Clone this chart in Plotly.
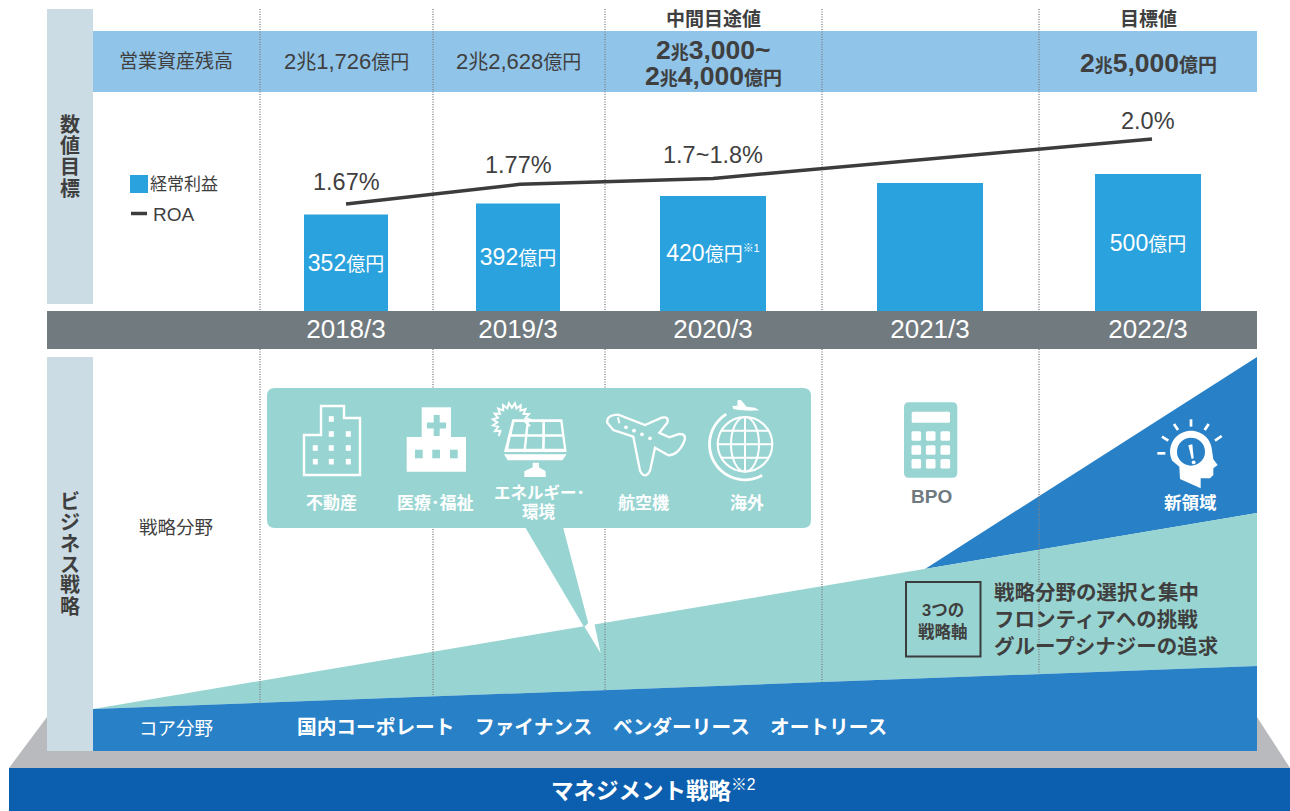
import math
import plotly.graph_objects as go

# ---------- data ----------
years = ["2018/3", "2019/3", "2020/3", "2021/3", "2022/3"]
ordinary_profit = [352, 392, 420, 467, 500]
profit_labels = ["352", "392", "420", None, "500"]
roa = [1.67, 1.77, 1.80, None, 2.0]
roa_labels = ["1.67%", "1.77%", "1.7~1.8%", "", "2.0%"]
strategic_fields = ["不動産", "医療･福祉", "航空機", "海外"]
core_fields = ["国内コーポレート", "ファイナンス", "ベンダーリース", "オートリース"]
axes_3 = ["戦略分野の選択と集中", "フロンティアへの挑戦", "グループシナジーの追求"]

# ---------- layout constants ----------
W, H = 1290, 811
bar_centres = [346, 518, 713, 930, 1148]
bar_widths = [84, 84, 106, 106, 106]
line_x = [346, 520, 713, 930, 1152]
FONT = "Liberation Sans, Noto Sans CJK JP, sans-serif"
TXT, LINE = "#3f3f3f", "#3c3c3c"
BAR, TEAL, BLUE, NAVY = "#2aa2dd", "#98d5d2", "#2881c7", "#0b5fae"
SIDE, BAND, GREY, BASE = "#cbdce4", "#90c4e9", "#717a7f", "#b9babd"

shapes, anns = [], []


def rect(x0, y0, x1, y1, fill):
    shapes.append(dict(type="rect", xref="x", yref="y", x0=x0, y0=y0, x1=x1, y1=y1,
                       fillcolor=fill, line_width=0, layer="below"))


def path(d, fill=None, color=None, width=0):
    s = dict(type="path", xref="x", yref="y", path=d, layer="below",
             line=dict(width=width, color=color or "rgba(0,0,0,0)"))
    if fill:
        s["fillcolor"] = fill
    shapes.append(s)


def poly(pts, fill=None, color=None, width=0, close=True):
    d = "M" + " L".join(f"{x:.2f},{y:.2f}" for x, y in pts) + (" Z" if close else "")
    path(d, fill, color, width)


def circle(cx, cy, r, fill=None, color=None, width=0):
    shapes.append(dict(type="circle", xref="x", yref="y", x0=cx - r, x1=cx + r, y0=cy - r, y1=cy + r,
                       fillcolor=fill or "rgba(0,0,0,0)", layer="below",
                       line=dict(width=width, color=color or "rgba(0,0,0,0)")))


def ellipse(cx, cy, rx, ry, color, width):
    shapes.append(dict(type="circle", xref="x", yref="y", x0=cx - rx, x1=cx + rx, y0=cy - ry, y1=cy + ry,
                       fillcolor="rgba(0,0,0,0)", layer="below", line=dict(width=width, color=color)))


def seg(x0, y0, x1, y1, color, width, dash=None):
    shapes.append(dict(type="line", xref="x", yref="y", x0=x0, y0=y0, x1=x1, y1=y1, layer="below",
                       line=dict(color=color, width=width, dash=dash)))


def ann(x, y, text, size, color=TXT, bold=False, anchor="center"):
    anns.append(dict(x=x, y=y, xref="x", yref="y", text=f"<b>{text}</b>" if bold else text,
                     showarrow=False, xanchor=anchor, yanchor="middle",
                     font=dict(family=FONT, size=size, color=color), align="center"))


def sz(text, size):
    return f'<span style="font-size:{size}px">{text}</span>'


def rrect(x0, y0, x1, y1, r):
    return (f"M{x0+r},{y0} L{x1-r},{y0} Q{x1},{y0} {x1},{y0+r} L{x1},{y1-r} Q{x1},{y1} {x1-r},{y1} "
            f"L{x0+r},{y1} Q{x0},{y1} {x0},{y1-r} L{x0},{y0+r} Q{x0},{y0} {x0+r},{y0} Z")


# ---------- background blocks ----------
rect(47, 9, 93, 304, SIDE)
rect(47, 357, 93, 751, SIDE)
rect(93, 31, 1257, 92, BAND)
rect(47, 311, 1257, 349, GREY)
poly([(47, 717), (1257, 717), (1290, 768), (9, 768)], BASE)
rect(47, 717, 1257, 751, SIDE)
rect(9, 768, 1290, 811, NAVY)

# wedges
poly([(925, 569), (1257, 357), (1257, 513)], BLUE)
poly([(93, 709), (1257, 513), (1257, 666)], TEAL)
poly([(93, 709), (1257, 666), (1257, 751), (93, 751)], BLUE)

# dotted year separators
for x in [260, 433, 605, 822, 1039]:
    seg(x, 9, x, 311, "#7f8488", 1.4, "1px,1.5px")
    seg(x, 349, x, 709 - 43 * (x - 93) / 1164, "#7f8488", 1.4, "1px,1.5px")

# callout
path(rrect(267, 388, 811, 528, 8), TEAL)
poly([(525, 527), (563, 527), (589, 626), (584, 627)], TEAL)
poly([(584.5, 626.7), (600.7, 653.3), (594.5, 624.3), (589.2, 622)], "#ffffff")

# legend swatches
rect(130, 175, 148, 193, BAR)
seg(131, 213.5, 147, 213.5, LINE, 3.5)

# framed "3つの戦略軸"
shapes.append(dict(type="rect", xref="x", yref="y", x0=906, y0=582, x1=980.5, y1=656.5, layer="below",
                   fillcolor="rgba(0,0,0,0)", line=dict(color=LINE, width=2)))

# ---------- icons ----------
WH = "#ffffff"
# building
poly([(304, 435), (321, 435), (321, 406), (344, 406), (344, 418), (360, 418), (360, 475), (304, 475)],
     None, WH, 2.4)
for wx, wy in [(331.3, 419), (331.3, 434), (348.3, 434), (315.3, 448), (331.3, 448), (348.3, 448),
               (315.3, 461.7), (331.3, 461.7), (348.3, 461.7)]:
    rect(wx - 2.5, wy - 2.8, wx + 2.5, wy + 2.8, WH)
# hospital
rect(421.7, 407.3, 451, 437, WH)
rect(406.7, 437, 466, 471.7, WH)
rect(427, 422.5, 446, 428.5, TEAL)
rect(433.7, 415, 439.7, 436, TEAL)
for wx in [415, 432.3, 450]:
    rect(wx, 449.7, wx + 7.7, 458.3, TEAL)
# solar panel (zoom px = 485 + z/3, 392 + z/3)
zs = lambda pts: [(485 + a / 3, 392 + b / 3) for a, b in pts]
poly(zs([(82, 82), (232, 82), (245, 180), (57, 180)]), WH)
for c in [[(88, 90), (125, 90), (120, 127), (80, 127)], [(132, 90), (172, 90), (172, 127), (128, 127)],
          [(180, 90), (226, 90), (231, 127), (180, 127)], [(77, 134), (120, 134), (116, 170), (70, 170)],
          [(127, 134), (172, 134), (171, 170), (123, 170)], [(180, 134), (232, 134), (237, 170), (179, 170)]]:
    poly(zs(c), TEAL)
poly(zs([(57, 187), (245, 187), (232, 205), (68, 205)]), WH)
poly(zs([(143, 212), (162, 212), (162, 226), (182, 238), (182, 255), (118, 255), (118, 238), (143, 226)]), WH)
sun = []
for i in range(27):
    ang = math.radians(-12 + i * 9.2)
    r = 57 if i % 2 == 0 else 43
    sun.append((80 + r * math.cos(ang), 90 - r * math.sin(ang)))
poly(zs(sun), None, WH, 2, close=False)
# plane (zoom px = 550 + z/3, 380 + z/3)
zp = lambda a, b: (550 + a / 3, 380 + b / 3)
fmt = lambda a, b: "{:.1f},{:.1f}".format(*zp(a, b))
plane = ("M" + fmt(172, 128) + " Q" + fmt(168, 105) + " " + fmt(205, 104) + " L" + fmt(285, 135)
         + " L" + fmt(335, 113) + " Q" + fmt(358, 108) + " " + fmt(352, 128) + " L" + fmt(328, 158)
         + " L" + fmt(358, 172) + " L" + fmt(388, 162) + " Q" + fmt(412, 162) + " " + fmt(402, 185)
         + " Q" + fmt(385, 225) + " " + fmt(355, 226) + " L" + fmt(315, 203) + " L" + fmt(300, 272)
         + " Q" + fmt(285, 300) + " " + fmt(270, 272) + " L" + fmt(250, 170) + " L" + fmt(190, 150) + " Z")
path(plane, None, WH, 2.3)
seg(*zp(204, 112), *zp(208, 130), WH, 2)
for a, b in [(228, 142), (252, 152), (276, 163), (300, 175)]:
    circle(*zp(a, b), 1.9, WH)
# globe (px = 700 + z/3, 395 + z/3)
gx, gy, gr = 745, 444.3, 27.3
circle(gx, gy, gr, None, WH, 2.1)
ellipse(gx, gy, 14, gr, WH, 2)
seg(gx, gy - gr, gx, gy + gr, WH, 2)
for dy, hw in [(-13.5, 23.7), (0, 27), (13.5, 23.7)]:
    seg(gx - hw, gy + dy, gx + hw, gy + dy, WH, 2)
arc = []
for i in range(31):
    ang = math.radians(122 + i * (299 - 122) / 30)
    arc.append((gx + 35.5 * math.cos(ang), gy - 35.5 * math.sin(ang)))
poly(arc, None, WH, 2.8, close=False)
poly([(700 + a / 3, 395 + b / 3) for a, b in [(97, 33), (112, 32), (113, 15), (123, 15), (140, 35), (165, 38),
      (178, 46), (150, 47), (118, 45), (100, 42)]], WH)
# calculator (px = 880 + z/3, 390 + z/3)
path(rrect(904, 402.3, 957.3, 477.7, 5), TEAL)
path(rrect(911.7, 411.7, 950, 422.7, 1.5), WH)
for cx in [916.3, 930.7, 945.3]:
    for cy in [436, 450, 463.7]:
        path(rrect(cx - 4.8, cy - 4.8, cx + 4.8, cy + 4.8, 1.5), WH)
# head (px = 1150 + z/3, 410 + z/3)
zh = lambda a, b: (1150 + a / 3, 410 + b / 3)
head = [(123 + 63 * math.cos(math.radians(t)), 125 - 63 * math.sin(math.radians(t))) for t in range(5, 215, 10)]
head += [(88, 170), (90, 207), (152, 235), (152, 205), (180, 205), (190, 195), (190, 175), (203, 165), (190, 148)]
poly([zh(a, b) for a, b in head], WH)
circle(*zh(123, 125), 14, BLUE)
poly([zh(a, b) for a, b in [(115, 106), (127, 103), (131, 145), (125, 147)]], WH)
circle(*zh(131, 157), 1.9, WH)
for a0, b0, a1, b1 in [(22, 130, 46, 130), (36, 80, 55, 92), (72, 42, 84, 60), (123, 28, 123, 50),
                       (176, 42, 164, 60), (215, 78, 195, 92)]:
    seg(*zh(a0, b0), *zh(a1, b1), WH, 2.7)

# ---------- texts ----------
for ch, y in zip("数値目標", [125, 146, 167, 189]):
    ann(70, y, ch, 20, TXT, True)
for ch, y in zip("ビジネス戦略", [502, 523, 544, 565, 585, 606]):
    ann(70, y, ch, 20, TXT, True)
ann(176, 61, "営業資産残高", 19)
ann(346, 61, "2" + sz("兆", 20) + "1,726" + sz("億円", 19), 22)
ann(518, 61, "2" + sz("兆", 20) + "2,628" + sz("億円", 19), 22)
ann(713, 19, "中間目途値", 19, TXT, True)
ann(1148, 19, "目標値", 19, TXT, True)
ann(713, 50, "2" + sz("兆", 18) + "3,000~", 26.5, TXT, True)
ann(713, 76, "2" + sz("兆", 18) + "4,000" + sz("億円", 19), 26.5, TXT, True)
ann(1148, 63, "2" + sz("兆", 18) + "5,000" + sz("億円", 19), 26.5, TXT, True)
ann(148, 184, "経常利益", 17, TXT, False, "left")
ann(151, 214, "ROA", 19, TXT, False, "left")
for x, lab, y in zip(bar_centres, roa_labels, [182, 165, 155, 0, 121]):
    if lab:
        ann(x, y, lab, 23.5)
ann(176, 527, "戦略分野", 18.5)
ann(176, 728, "コア分野", 18.5, WH)
for lab, x in zip(strategic_fields, [331, 435, 643, 747]):
    ann(x, 503, lab, 17, WH, True)
ann(539, 493, "エネルギー･", 16.5, WH, True)
ann(539, 512, "環境", 16.5, WH, True)
ann(931, 496, "BPO", 19, "#6f7a80", True)
ann(1190, 503, "新領域", 17.5, WH, True)
ann(943, 610, "3つの", 16.5, TXT, True)
ann(943, 631, "戦略軸", 16.5, TXT, True)
for lab, y in zip(axes_3, [592, 619, 646]):
    ann(992, y, lab, 20.5, TXT, True, "left")
for lab, x in zip(core_fields, [376, 533, 681, 828]):
    ann(x, 727, lab, 19.7, WH, True)
ann(653, 790, "<b>マネジメント戦略</b><sup>※2</sup>", 22.5, WH)

# ---------- traces through library axes ----------
fig = go.Figure()
fig.add_trace(go.Bar(
    x=bar_centres, y=ordinary_profit, width=bar_widths, marker=dict(color=BAR, line_width=0),
    text=[(v + sz("億円", 19) + ('<sup>' + sz("※1", 11) + '</sup>' if v == "420" else "")) if v else None
          for v in profit_labels],
    textposition="inside", textangle=0, insidetextanchor="middle", constraintext="none",
    insidetextfont=dict(family=FONT, size=23, color=WH), yaxis="y2", name="経常利益", hoverinfo="skip"))
fig.add_trace(go.Scatter(
    x=line_x, y=roa, mode="lines", connectgaps=True, line=dict(color=LINE, width=3.5),
    yaxis="y3", name="ROA", hoverinfo="skip"))

top_px, base_px = 100, 311
px_per_value = 1 / 3.65
fig.update_layout(
    width=W, height=H, margin=dict(l=0, r=0, t=0, b=0, pad=0),
    paper_bgcolor="white", plot_bgcolor="rgba(0,0,0,0)", showlegend=False, hovermode=False,
    shapes=shapes, annotations=anns,
    xaxis=dict(range=[0, W], domain=[0, 1], anchor="y2", tickmode="array", tickvals=bar_centres, ticktext=years,
               ticks="", ticklen=0, showgrid=False, zeroline=False,
               showline=False, tickfont=dict(family=FONT, size=26, color=WH)),
    yaxis=dict(range=[H, 0], domain=[0, 1], visible=False, anchor="free", position=0),
    yaxis2=dict(range=[0, (base_px - top_px) / px_per_value],
                domain=[(H - base_px) / H, (H - top_px) / H], visible=False, anchor="x"),
    yaxis3=dict(range=[1.67 - 107 / 197, 2.0 + 39 / 197],
                domain=[(H - base_px) / H, (H - top_px) / H], visible=False, anchor="x"),
)
fig.write_html("out.html", config=dict(displayModeBar=False),
               post_script="document.body.style.margin='0';document.documentElement.style.overflow='hidden';")
